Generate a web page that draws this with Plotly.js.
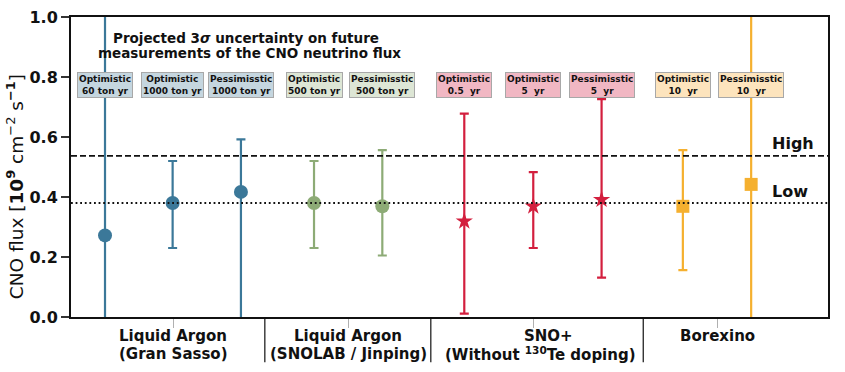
<!DOCTYPE html>
<html><head><meta charset="utf-8">
<script src="https://cdn.plot.ly/plotly-3.0.1.min.js"></script>
<style>body{margin:0;background:#fff}#chart{width:845px;height:372px}</style>
</head><body><div id="chart"></div>
<script>
// ---- data ----
const groupLine1 = ["Liquid Argon", "Liquid Argon", "SNO+", "Borexino"];
const groupLine2 = ["(Gran Sasso)", "(SNOLAB / Jinping)", "(Without <sup>130</sup>Te doping)", ""];
const pointGroup = [0, 0, 0, 1, 1, 2, 2, 2, 3, 3];
const scenarioLabels = ["Optimistic<br>60 ton yr", "Optimistic<br>1000 ton yr", "Pessimisstic<br>1000 ton yr",
  "Optimistic<br>500 ton yr", "Pessimisstic<br>500 ton yr",
  "Optimistic<br>0.5\u00a0 yr", "Optimistic<br>5\u00a0 yr", "Pessimisstic<br>5\u00a0 yr",
  "Optimistic<br>10\u00a0 yr", "Pessimisstic<br>10\u00a0 yr"];
const central = [0.272, 0.38, 0.417, 0.38, 0.369, 0.319, 0.369, 0.391, 0.369, 0.442];
const upper   = [1.30, 0.52, 0.592, 0.52, 0.556, 0.678, 0.483, 0.726, 0.556, 1.30];
const lower   = [-0.30, 0.23, -0.20, 0.23, 0.205, 0.011, 0.23, 0.131, 0.156, -0.30];
const highLevel = 0.537;
const lowLevel = 0.380;
const yTicks = [0, 0.2, 0.4, 0.6, 0.8, 1.0];
const titleLines = ["Projected 3<i>σ</i> uncertainty on future", "measurements of the CNO neutrino flux"];

// ---- positions / styles ----
const xpos = [0, 0.99, 1.99, 3.06, 4.06, 5.26, 6.27, 7.27, 8.46, 9.46];
const groupCenters = [1.0, 3.56, 6.27, 8.96];
const line1X = [1.0, 3.56, 6.486, 8.96];
const line2X = [1.0, 3.56, 6.369, 8.96];
const separators = [2.34, 4.77, 7.88];
const colors = ["#3b7899", "#8dab76", "#d31f3e", "#f5b02f"];
const boxFill = ["#c5d6df", "#dde6d5", "#f1b7c3", "#fde4bd"];
const symbols = ["circle", "circle", "star", "square"];
const sizes = [14, 14, 13, 13];
const FONT = "DejaVu Sans, sans-serif";
const ink = "#111";

const traces = [];
for (let g = 0; g < groupLine1.length; g++) {
  const idx = pointGroup.map((v, i) => v === g ? i : -1).filter(i => i >= 0);
  traces.push({
    type: "scatter", mode: "markers",
    x: idx.map(i => xpos[i]),
    y: idx.map(i => central[i]),
    marker: {color: colors[g], symbol: symbols[g], size: sizes[g], line: {width: 0}},
    error_y: {type: "data", symmetric: false,
      array: idx.map(i => upper[i] - central[i]),
      arrayminus: idx.map(i => central[i] - lower[i]),
      color: colors[g], thickness: 2.2, width: 4.5},
    showlegend: false, hoverinfo: "skip"
  });
}

const xr = [-0.498, 10.585];
const shapes = [
  {type: "line", xref: "paper", yref: "y", x0: 0, x1: 1, y0: highLevel, y1: highLevel,
   line: {color: ink, width: 1.6, dash: "6px,3px"}},
  {type: "line", xref: "paper", yref: "y", x0: 0, x1: 1, y0: lowLevel, y1: lowLevel,
   line: {color: ink, width: 1.8, dash: "1.8px,2.8px"}}
];
separators.forEach(s => shapes.push({type: "line", xref: "x", yref: "paper", x0: s, x1: s, y0: 0, y1: -0.151,
  line: {color: ink, width: 1.2}}));

const annotations = [];
scenarioLabels.forEach((t, i) => annotations.push({
  x: xpos[i], y: 0.773, xref: "x", yref: "y", text: t, showarrow: false,
  font: {family: FONT, size: 9, weight: "bold", color: ink},
  bgcolor: boxFill[pointGroup[i]], bordercolor: "#a8a8a8", borderwidth: 1, borderpad: 1
}));
const titleX = [2.06, 2.116], titleY = [(316.7 - 37.5) / 300, (316.7 - 52.5) / 300];
titleLines.forEach((t, k) => annotations.push({x: titleX[k], y: titleY[k], xref: "x", yref: "paper",
  yanchor: "middle", text: t, showarrow: false,
  font: {family: FONT, size: 13.5, weight: "bold", color: ink}}));
groupLine1.forEach((t, g) => annotations.push({x: line1X[g], y: -0.0643, xref: "x", yref: "paper",
  yanchor: "middle", text: t, showarrow: false, font: {family: FONT, size: 15, weight: "bold", color: ink}}));
groupLine2.forEach((t, g) => { if (t) annotations.push({x: line2X[g], y: -0.122, xref: "x", yref: "paper",
  yanchor: "middle", text: t, showarrow: false, font: {family: FONT, size: 15, weight: "bold", color: ink}}); });
annotations.push({x: 10.07, y: 0.58, xref: "x", yref: "y", text: "High", showarrow: false,
  font: {family: FONT, size: 16, weight: "bold", color: ink}});
annotations.push({x: 10.03, y: 0.417, xref: "x", yref: "y", text: "Low", showarrow: false,
  font: {family: FONT, size: 16, weight: "bold", color: ink}});
annotations.push({x: -0.074, y: 0.436, xref: "paper", yref: "paper", textangle: -90,
  xanchor: "center", yanchor: "middle", showarrow: false,
  text: "CNO flux [<b>10<sup>9</sup></b> cm<sup>−2</sup> s<sup><b>−1</b></sup>]",
  font: {family: FONT, size: 18.5, color: ink}});

const layout = {
  width: 845, height: 372,
  margin: {l: 71, r: 17, t: 17, b: 55},
  paper_bgcolor: "#fff", plot_bgcolor: "#fff",
  xaxis: {range: xr, tickmode: "array", tickvals: groupCenters, ticktext: groupCenters.map(() => ""),
    ticks: "outside", ticklen: 9, tickcolor: "#b0b0b0", tickwidth: 1,
    showgrid: false, zeroline: false, showline: true, mirror: true, linecolor: ink, linewidth: 2,
    fixedrange: true},
  yaxis: {range: [0, 1], tickmode: "array", tickvals: yTicks, ticktext: yTicks.map(v => v.toFixed(1)),
    ticks: "outside", ticklen: 8, tickcolor: "#333", tickwidth: 1.2,
    showgrid: false, zeroline: false, showline: true, mirror: true, linecolor: ink, linewidth: 2,
    tickfont: {family: FONT, size: 16, weight: "bold", color: ink}, fixedrange: true},
  shapes: shapes, annotations: annotations
};
Plotly.newPlot("chart", traces, layout, {displayModeBar: false, staticPlot: true});
</script></body></html>
